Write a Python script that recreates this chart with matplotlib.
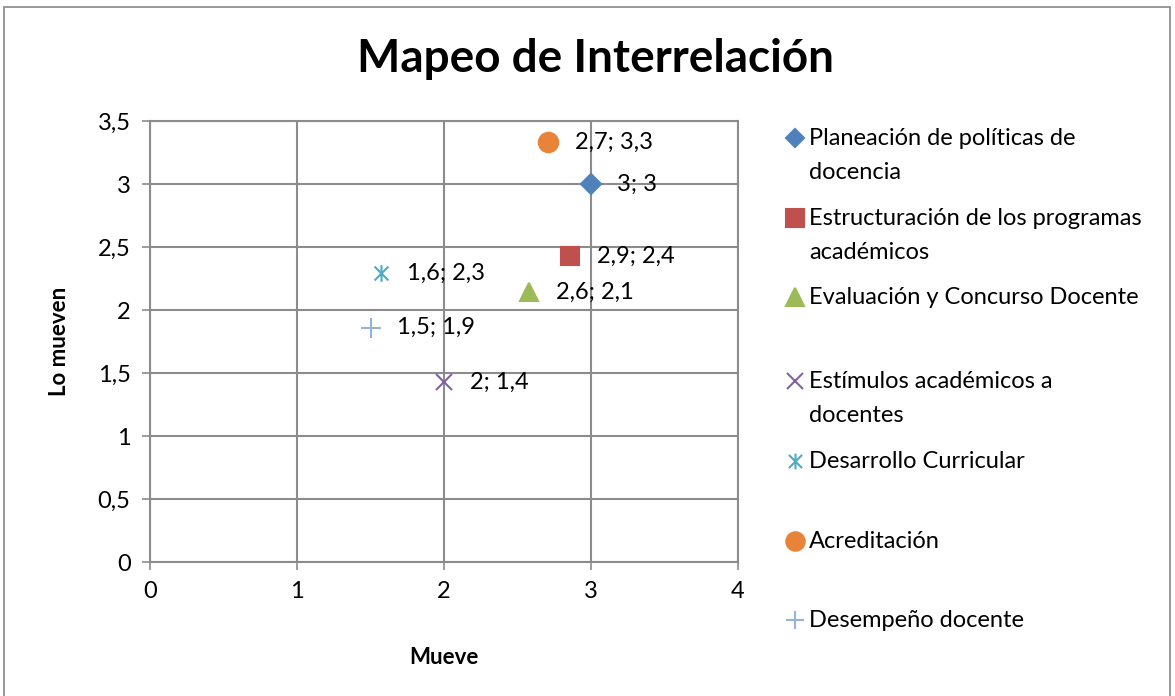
import matplotlib
matplotlib.use("Agg")
import matplotlib.pyplot as plt
from matplotlib.ticker import FuncFormatter, MultipleLocator
from matplotlib.patches import Rectangle
from matplotlib.path import Path

plt.rcParams['font.family'] = ['Lato', 'DejaVu Sans']

# data
series = ["Planeación de políticas de\ndocencia",
          "Estructuración de los programas\nacadémicos",
          "Evaluación y Concurso Docente",
          "Estímulos académicos a\ndocentes",
          "Desarrollo Curricular",
          "Acreditación",
          "Desempeño docente"]
mueve = [3.0, 2.86, 2.58, 2.0, 1.57, 2.71, 1.5]
lo_mueven = [3.0, 2.43, 2.14, 1.43, 2.29, 3.33, 1.86]
point_labels = ["3; 3", "2,9; 2,4", "2,6; 2,1", "2; 1,4", "1,6; 2,3", "2,7; 3,3", "1,5; 1,9"]

# excel style "star": X with a vertical stroke
star = Path([(-1, -1), (1, 1), (-1, 1), (1, -1), (0, -1.2), (0, 1.2)],
            [Path.MOVETO, Path.LINETO, Path.MOVETO, Path.LINETO, Path.MOVETO, Path.LINETO])

colors = ["#4F81BD", "#C0504D", "#9BBB59", "#8064A2", "#4BACC6", "#E8843A", "#95B3D7"]
markers = ["D", "s", "^", "x", star, "o", "+"]
msizes = [10, 13, 13, 12, 12, 14, 14]

fig = plt.figure(figsize=(11.75, 6.96), dpi=100)
fig.add_artist(Rectangle((0.003, -0.01), 0.993, 1.0, transform=fig.transFigure,
                         fill=False, edgecolor="#888888", linewidth=1.2))

ax = fig.add_axes([0.1277, 0.1925, 0.5004, 0.6336])
for i in range(len(series)):
    ax.plot(mueve[i], lo_mueven[i], linestyle="none", marker=markers[i],
            color=colors[i], markersize=msizes[i], markeredgewidth=1.5, zorder=3)
    ax.annotate(point_labels[i], (mueve[i], lo_mueven[i]), xytext=(19, 0),
                textcoords="offset points", va="center", ha="left", fontsize=17)

ax.set_xlim(0, 4)
ax.set_ylim(0, 3.5)
ax.xaxis.set_major_locator(MultipleLocator(1))
ax.yaxis.set_major_locator(MultipleLocator(0.5))
fmt = FuncFormatter(lambda v, p: ("%g" % v).replace(".", ","))
ax.xaxis.set_major_formatter(fmt)
ax.yaxis.set_major_formatter(fmt)
ax.grid(True, color="#8c8c8c", linewidth=1.5)
ax.set_axisbelow(True)
for s in ax.spines.values():
    s.set_color("#8c8c8c")
    s.set_linewidth(1.5)
ax.tick_params(labelsize=17, length=6, width=1.2, color="#8c8c8c", pad=8)

ax.set_xlabel("Mueve", fontsize=16, fontweight="bold", labelpad=32)
ax.set_ylabel("Lo mueven", fontsize=16, fontweight="bold", labelpad=20)
fig.suptitle("Mapeo de Interrelación", fontsize=33, fontweight="bold", x=0.507, y=0.945)

# legend drawn by hand to match uneven entry spacing
lax = fig.add_axes([0, 0, 1, 1])
lax.set_xlim(0, 1175)
lax.set_ylim(696, 0)
lax.axis("off")
legend_y = [138, 218, 297, 381, 461, 541, 620]
for i in range(len(series)):
    lax.plot(795, legend_y[i], linestyle="none", marker=markers[i], color=colors[i],
             markersize=msizes[i] * 0.95, markeredgewidth=1.5)
    lax.text(809, legend_y[i] - 10, series[i], va="top", ha="left", fontsize=17,
             linespacing=1.75)

fig.savefig("out.png", dpi=100)
